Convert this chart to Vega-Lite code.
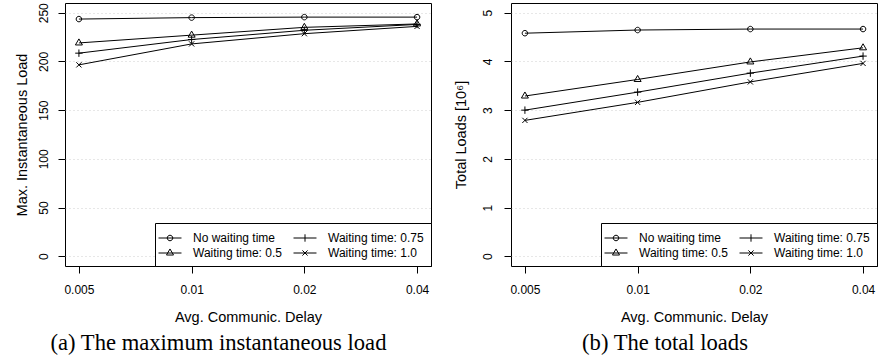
{
  "$schema": "https://vega.github.io/schema/vega-lite/v6.json",
  "padding": {"left": 13, "top": 2, "right": 2, "bottom": 0},
  "background": "white",
  "bounds": "flush",
  "spacing": 80,
  "config": {
    "font": "Liberation Sans",
    "view": {"stroke": "black", "strokeWidth": 1},
    "axis": {
      "labelFont": "Liberation Sans", "labelFontSize": 12, "labelColor": "black",
      "titleFont": "Liberation Sans", "titleFontSize": 14.5, "titleFontWeight": "normal", "titleColor": "black",
      "tickColor": "black", "tickSize": 7, "tickWidth": 1, "domain": false,
      "labelFlush": false, "labelOverlap": false
    },
    "legend": {
      "labelFont": "Liberation Sans", "labelFontSize": 12, "labelColor": "black"
    }
  },
  "datasets": {
    "maxload": [
      {"delay": 0.005, "series": "No waiting time", "value": 243.5},
      {"delay": 0.01, "series": "No waiting time", "value": 245},
      {"delay": 0.02, "series": "No waiting time", "value": 245.5},
      {"delay": 0.04, "series": "No waiting time", "value": 245.5},
      {"delay": 0.005, "series": "Waiting time: 0.5", "value": 219},
      {"delay": 0.01, "series": "Waiting time: 0.5", "value": 227},
      {"delay": 0.02, "series": "Waiting time: 0.5", "value": 235},
      {"delay": 0.04, "series": "Waiting time: 0.5", "value": 238.5},
      {"delay": 0.005, "series": "Waiting time: 0.75", "value": 208.5},
      {"delay": 0.01, "series": "Waiting time: 0.75", "value": 222.5},
      {"delay": 0.02, "series": "Waiting time: 0.75", "value": 232},
      {"delay": 0.04, "series": "Waiting time: 0.75", "value": 238},
      {"delay": 0.005, "series": "Waiting time: 1.0", "value": 196.5},
      {"delay": 0.01, "series": "Waiting time: 1.0", "value": 218},
      {"delay": 0.02, "series": "Waiting time: 1.0", "value": 228.5},
      {"delay": 0.04, "series": "Waiting time: 1.0", "value": 236}
    ],
    "totalload": [
      {"delay": 0.005, "series": "No waiting time", "value": 4.58},
      {"delay": 0.01, "series": "No waiting time", "value": 4.645},
      {"delay": 0.02, "series": "No waiting time", "value": 4.665},
      {"delay": 0.04, "series": "No waiting time", "value": 4.665},
      {"delay": 0.005, "series": "Waiting time: 0.5", "value": 3.29},
      {"delay": 0.01, "series": "Waiting time: 0.5", "value": 3.63},
      {"delay": 0.02, "series": "Waiting time: 0.5", "value": 3.99},
      {"delay": 0.04, "series": "Waiting time: 0.5", "value": 4.28},
      {"delay": 0.005, "series": "Waiting time: 0.75", "value": 3.0},
      {"delay": 0.01, "series": "Waiting time: 0.75", "value": 3.37},
      {"delay": 0.02, "series": "Waiting time: 0.75", "value": 3.76},
      {"delay": 0.04, "series": "Waiting time: 0.75", "value": 4.11},
      {"delay": 0.005, "series": "Waiting time: 1.0", "value": 2.79},
      {"delay": 0.01, "series": "Waiting time: 1.0", "value": 3.16},
      {"delay": 0.02, "series": "Waiting time: 1.0", "value": 3.58},
      {"delay": 0.04, "series": "Waiting time: 1.0", "value": 3.96}
    ]
  },
  "resolve": {
    "scale": {"x": "independent", "y": "independent", "shape": "independent"},
    "legend": {"shape": "independent"}
  },
  "hconcat": [
    {
      "width": 366,
      "height": 263,
      "data": {"name": "maxload"},
      "title": {
        "text": "(a) The maximum instantaneous load", "orient": "bottom", "frame": "group",
        "anchor": "middle", "baseline": "alphabetic", "offset": 26, "dx": -29.5,
        "font": "Liberation Serif", "fontSize": 22.6, "fontWeight": "normal", "color": "black"
      },
      "encoding": {
        "x": {
          "field": "delay", "type": "quantitative",
          "scale": {"type": "log", "domain": [0.00459, 0.04358], "nice": false},
          "axis": {
            "title": "Avg. Communic. Delay", "values": [0.005, 0.01, 0.02, 0.04], "format": "~g",
            "labelBaseline": "alphabetic", "labelPadding": 20.5,
            "titleBaseline": "alphabetic", "titleY": 55.5, "grid": false
          }
        },
        "y": {
          "field": "value", "type": "quantitative",
          "scale": {"domain": [-10, 260], "nice": false, "zero": false},
          "axis": {
            "title": "Max. Instantaneous Load", "values": [0, 50, 100, 150, 200, 250],
            "labelAngle": 270, "labelAlign": "center", "labelBaseline": "alphabetic", "labelPadding": 11,
            "titleAngle": 270, "titleBaseline": "alphabetic", "titleX": -39,
            "grid": true, "gridColor": "#cfcfcf", "gridDash": [1, 3], "gridWidth": 1
          }
        }
      },
      "resolve": {"scale": {"shape": "independent"}, "legend": {"shape": "independent"}},
      "layer": [
        {
          "mark": {"type": "line", "color": "black", "strokeWidth": 1},
          "encoding": {"detail": {"field": "series"}}
        },
        {
          "mark": {"type": "point", "filled": false, "color": "black", "strokeWidth": 1, "size": 36, "opacity": 1},
          "encoding": {
            "shape": {
              "field": "series", "type": "nominal", "legend": null,
              "scale": {
                "domain": ["No waiting time", "Waiting time: 0.5", "Waiting time: 0.75", "Waiting time: 1.0"],
                "range": [
                  "M-0.917,0A0.917,0.917 0 1,0 0.917,0A0.917,0.917 0 1,0 -0.917,0",
                  "M0,-1.347L1.167,0.673L-1.167,0.673Z",
                  "M-1.233,0H1.233M0,-1.233V1.233",
                  "M-0.867,-0.867L0.867,0.867M0.867,-0.867L-0.867,0.867"
                ]
              }
            }
          }
        },
        {
          "mark": {"type": "point", "filled": false, "color": "black", "strokeWidth": 1, "size": 36, "opacity": 0},
          "encoding": {
            "shape": {
              "field": "series", "type": "nominal",
              "scale": {
                "domain": ["No waiting time", "Waiting time: 0.5", "Waiting time: 0.75", "Waiting time: 1.0"],
                "range": [
                  "M-1.533,0H1.533M-0.367,0A0.367,0.367 0 1,0 0.367,0A0.367,0.367 0 1,0 -0.367,0",
                  "M-1.533,0H1.533M0,-0.539L0.467,0.269L-0.467,0.269Z",
                  "M-1.533,0H1.533M0,-0.493V0.493",
                  "M-1.533,0H1.533M-0.347,-0.347L0.347,0.347M0.347,-0.347L-0.347,0.347"
                ]
              },
              "legend": {
                "title": null, "orient": "bottom-right", "offset": 0, "columns": 2,
                "padding": 7, "strokeColor": "black", "fillColor": "white", "cornerRadius": 0,
                "symbolSize": 225, "symbolStrokeWidth": 1, "symbolStrokeColor": "black",
                "symbolOpacity": 1, "symbolFillColor": "transparent",
                "labelOffset": 15, "columnPadding": 9, "rowPadding": 1, "labelLimit": 300
              }
            }
          }
        }
      ]
    },
    {
      "width": 366,
      "height": 263,
      "data": {"name": "totalload"},
      "title": {
        "text": "(b) The total loads", "orient": "bottom", "frame": "group",
        "anchor": "middle", "baseline": "alphabetic", "offset": 26, "dx": -29,
        "font": "Liberation Serif", "fontSize": 22.6, "fontWeight": "normal", "color": "black"
      },
      "encoding": {
        "x": {
          "field": "delay", "type": "quantitative",
          "scale": {"type": "log", "domain": [0.00459, 0.04358], "nice": false},
          "axis": {
            "title": "Avg. Communic. Delay", "values": [0.005, 0.01, 0.02, 0.04], "format": "~g",
            "labelBaseline": "alphabetic", "labelPadding": 20.5,
            "titleBaseline": "alphabetic", "titleY": 55.5, "grid": false
          }
        },
        "y": {
          "field": "value", "type": "quantitative",
          "scale": {"domain": [-0.2, 5.2], "nice": false, "zero": false},
          "axis": {
            "title": "Total Loads [10⁶]", "values": [0, 1, 2, 3, 4, 5],
            "labelAngle": 270, "labelAlign": "center", "labelBaseline": "alphabetic", "labelPadding": 13,
            "titleAngle": 270, "titleBaseline": "alphabetic", "titleX": -46,
            "grid": true, "gridColor": "#cfcfcf", "gridDash": [1, 3], "gridWidth": 1
          }
        }
      },
      "resolve": {"scale": {"shape": "independent"}, "legend": {"shape": "independent"}},
      "layer": [
        {
          "mark": {"type": "line", "color": "black", "strokeWidth": 1},
          "encoding": {"detail": {"field": "series"}}
        },
        {
          "mark": {"type": "point", "filled": false, "color": "black", "strokeWidth": 1, "size": 36, "opacity": 1},
          "encoding": {
            "shape": {
              "field": "series", "type": "nominal", "legend": null,
              "scale": {
                "domain": ["No waiting time", "Waiting time: 0.5", "Waiting time: 0.75", "Waiting time: 1.0"],
                "range": [
                  "M-0.917,0A0.917,0.917 0 1,0 0.917,0A0.917,0.917 0 1,0 -0.917,0",
                  "M0,-1.347L1.167,0.673L-1.167,0.673Z",
                  "M-1.233,0H1.233M0,-1.233V1.233",
                  "M-0.867,-0.867L0.867,0.867M0.867,-0.867L-0.867,0.867"
                ]
              }
            }
          }
        },
        {
          "mark": {"type": "point", "filled": false, "color": "black", "strokeWidth": 1, "size": 36, "opacity": 0},
          "encoding": {
            "shape": {
              "field": "series", "type": "nominal",
              "scale": {
                "domain": ["No waiting time", "Waiting time: 0.5", "Waiting time: 0.75", "Waiting time: 1.0"],
                "range": [
                  "M-1.533,0H1.533M-0.367,0A0.367,0.367 0 1,0 0.367,0A0.367,0.367 0 1,0 -0.367,0",
                  "M-1.533,0H1.533M0,-0.539L0.467,0.269L-0.467,0.269Z",
                  "M-1.533,0H1.533M0,-0.493V0.493",
                  "M-1.533,0H1.533M-0.347,-0.347L0.347,0.347M0.347,-0.347L-0.347,0.347"
                ]
              },
              "legend": {
                "title": null, "orient": "bottom-right", "offset": 0, "columns": 2,
                "padding": 7, "strokeColor": "black", "fillColor": "white", "cornerRadius": 0,
                "symbolSize": 225, "symbolStrokeWidth": 1, "symbolStrokeColor": "black",
                "symbolOpacity": 1, "symbolFillColor": "transparent",
                "labelOffset": 15, "columnPadding": 9, "rowPadding": 1, "labelLimit": 300
              }
            }
          }
        }
      ]
    }
  ]
}
